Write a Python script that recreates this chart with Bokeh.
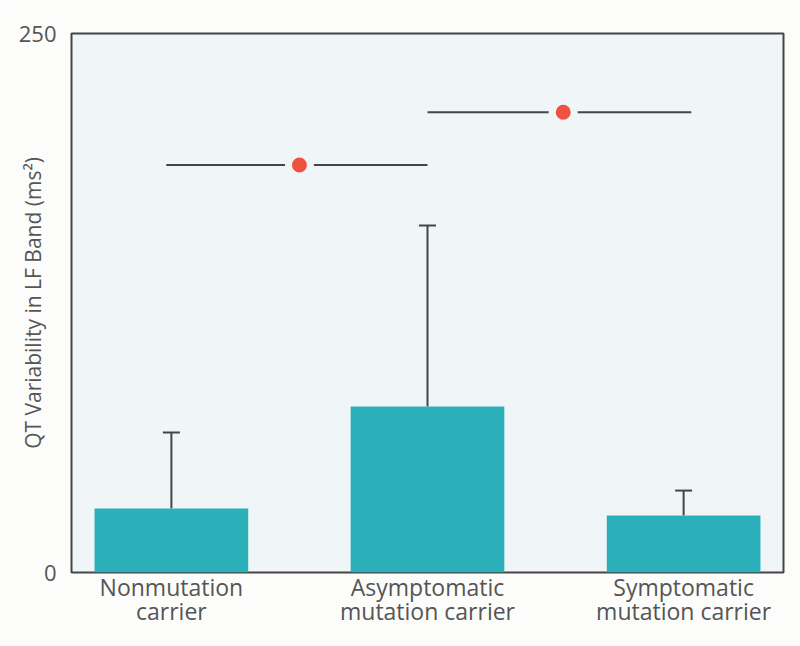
from bokeh.plotting import figure
from bokeh.models import FixedTicker, Range1d, ColumnDataSource, Whisker, TeeHead
from bokeh.embed import file_html
from bokeh.resources import INLINE

# ---- data ----
categories = ["Nonmutation\ncarrier", "Asymptomatic\nmutation carrier", "Symptomatic\nmutation carrier"]
positions = [1, 2, 3]
means = [29.7, 77.0, 26.4]
upper_err = [64.9, 161.0, 38.0]
sig_start = [0.98, 2.0]
sig_end = [2.0, 3.03]
sig_mark = [1.5, 2.53]
sig_level = [189.0, 213.5]
y_ticks = [0, 250]

# ---- styles ----
BAR = "#2bb0ba"
PLOT_BG = "#f0f6f8"
PAGE_BG = "#fcfcfa"
DARK = "#454545"
TEXT = "#555555"
RED = "#ef5340"
FONT = "Open Sans"

p = figure(width=800, height=646, output_backend="svg", toolbar_location=None,
           x_range=Range1d(0.61, 3.39), y_range=Range1d(0, 250),
           min_border_left=71, min_border_right=17, min_border_top=33, min_border_bottom=74)
p.background_fill_color = PLOT_BG
p.border_fill_color = PAGE_BG
p.outline_line_color = DARK
p.outline_line_width = 2
p.grid.visible = False

bars = ColumnDataSource(dict(x=positions, top=means, upper=upper_err))
p.vbar(x="x", top="top", bottom=0, width=0.6, source=bars, fill_color=BAR, line_color=None)
p.add_layout(Whisker(base="x", lower="top", upper="upper", source=bars, dimension="height",
                     line_color=DARK, line_width=2,
                     upper_head=TeeHead(size=17, line_color=DARK, line_width=2),
                     lower_head=None))

sig = ColumnDataSource(dict(x0=sig_start, x1=sig_end, y=sig_level, xm=sig_mark))
p.segment(x0="x0", y0="y", x1="x1", y1="y", source=sig, line_color=DARK, line_width=2)
p.scatter(x="xm", y="y", source=sig, size=29, fill_color=PLOT_BG, line_color=None)
p.scatter(x="xm", y="y", source=sig, size=15, fill_color=RED, line_color=None)

# y axis
ya = p.yaxis[0]
ya.ticker = FixedTicker(ticks=y_ticks)
ya.axis_line_color = None
ya.major_tick_line_color = None
ya.minor_tick_line_color = None
ya.major_label_text_font = FONT
ya.major_label_text_font_size = "22px"
ya.major_label_text_color = TEXT
ya.major_label_standoff = 9
ya.axis_label = "QT Variability in LF Band (ms²)"
ya.axis_label_text_font = FONT
ya.axis_label_text_font_size = "21px"
ya.axis_label_text_font_style = "normal"
ya.axis_label_text_color = TEXT
ya.axis_label_standoff = -31

# x axis
xa = p.xaxis[0]
xa.ticker = FixedTicker(ticks=positions)
xa.major_label_overrides = {k: v for k, v in zip(positions, categories)}
xa.axis_line_color = None
xa.major_tick_line_color = None
xa.minor_tick_line_color = None
xa.major_label_text_font = FONT
xa.major_label_text_font_size = "23px"
xa.major_label_text_color = TEXT
xa.major_label_text_line_height = 0.75
xa.major_label_standoff = -8

open("out.html", "w").write(file_html(p, INLINE))
